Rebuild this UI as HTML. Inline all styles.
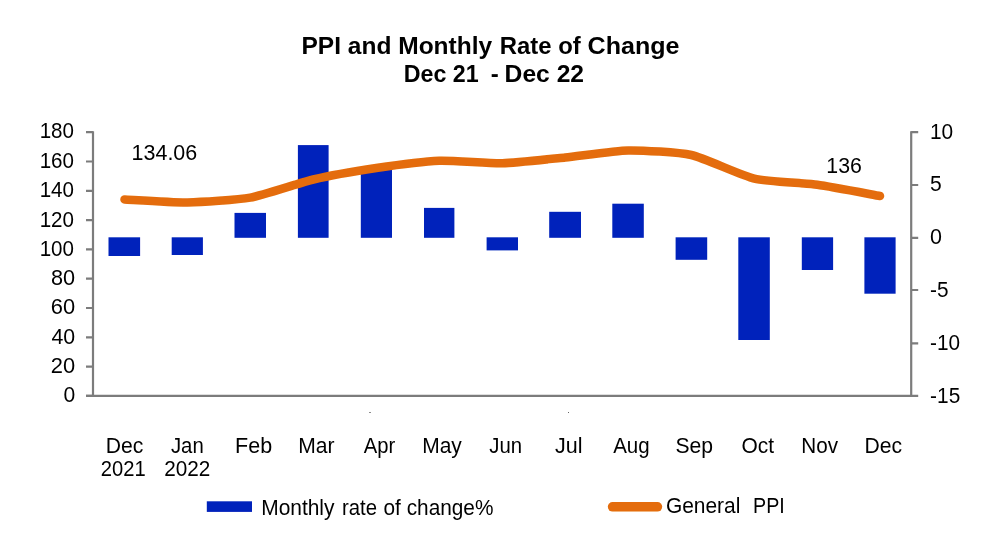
<!DOCTYPE html>
<html lang="en">
<head>
<meta charset="utf-8">
<title>PPI and Monthly Rate of Change</title>
<style>
html,body{margin:0;padding:0;background:#fff;}
body{width:1000px;height:539px;overflow:hidden;}
svg{display:block;}
text{font-family:"Liberation Sans",Arial,sans-serif;fill:#000;}
.t{font-weight:bold;}
</style>
</head>
<body>
<svg width="1000" height="539" viewBox="0 0 1000 539">
<defs><filter id="soft" x="0" y="0" width="1000" height="539" filterUnits="userSpaceOnUse"><feGaussianBlur stdDeviation="0.4"/></filter></defs>
<rect width="1000" height="539" fill="#fff"/>
<g filter="url(#soft)">
<g fill="#0121bb">
<rect x="108.5" y="237.3" width="31.6" height="18.7"/>
<rect x="171.7" y="237.3" width="31.2" height="17.7"/>
<rect x="234.5" y="212.9" width="31.5" height="24.9"/>
<rect x="297.9" y="145.1" width="30.7" height="92.7"/>
<rect x="360.8" y="168.0" width="31.2" height="69.8"/>
<rect x="424.0" y="207.9" width="30.4" height="29.9"/>
<rect x="486.6" y="237.3" width="31.4" height="13.1"/>
<rect x="549.2" y="211.8" width="31.8" height="26.0"/>
<rect x="612.3" y="203.7" width="31.5" height="34.1"/>
<rect x="675.6" y="237.3" width="31.6" height="22.5"/>
<rect x="738.3" y="237.3" width="31.5" height="102.7"/>
<rect x="801.8" y="237.3" width="31.3" height="32.7"/>
<rect x="864.4" y="237.3" width="31.2" height="56.4"/>
</g>
<g stroke="#7c7c7c" stroke-width="2.2" fill="none">
<path d="M93 131.3V396.9M86 395.85H918.2M911.2 131.3V396.9"/>
<path d="M86 395.9H93M86 366.6H93M86 337.3H93M86 308.0H93M86 278.7H93M86 249.4H93M86 220.1H93M86 190.8H93M86 161.5H93M86 132.2H93"/>
<path d="M911.2 132.2H918.2M911.2 185.0H918.2M911.2 237.8H918.2M911.2 290.0H918.2M911.2 343.3H918.2"/>
</g>
<path d="M124.5 199.4C130.8 199.7 174.8 202.6 187.4 202.4C200.0 202.2 237.7 199.9 250.3 197.6C262.9 195.3 300.7 182.5 313.3 179.5C325.9 176.5 363.7 169.9 376.3 168.0C388.9 166.1 426.7 161.2 439.3 160.7C451.9 160.2 489.7 163.5 502.3 163.2C514.9 162.9 552.7 158.7 565.3 157.4C577.9 156.1 615.7 150.6 628.3 150.4C640.9 150.2 678.7 152.2 691.3 155.0C703.9 157.8 741.7 175.6 754.3 178.6C766.9 181.6 804.7 183.1 817.3 184.8C829.9 186.5 873.7 194.9 880.0 196.0" fill="none" stroke="#e46c0a" stroke-width="8.5" stroke-linecap="round" stroke-linejoin="round"/>
<rect x="369" y="412" width="2" height="1" fill="#8c8c8c"/>
<rect x="568" y="412" width="1" height="1" fill="#666"/>
<rect x="206.8" y="501.3" width="45.2" height="10.6" fill="#0121bb"/>
<path d="M612.6 506.8H657.4" stroke="#e46c0a" stroke-width="9.6" stroke-linecap="round" fill="none"/>
<text class="t" font-size="23.2" transform="translate(301.51 54.20) scale(1.0571 1)">PPI and Monthly</text>
<text class="t" font-size="23.2" transform="translate(499.85 54.20) scale(1.0298 1)">Rate of</text>
<text class="t" font-size="23.2" transform="translate(587.62 54.20) scale(1.0804 1)">Change</text>
<text class="t" font-size="23.2" transform="translate(403.70 82.30) scale(1.0028 1)">Dec 21</text>
<text class="t" font-size="23.2" transform="translate(490.67 82.30) scale(1.0339 1)">-</text>
<text class="t" font-size="23.2" transform="translate(504.60 82.30) scale(1.0622 1)">Dec 22</text>
<text class="l" font-size="21.3" transform="translate(63.41 402.25) scale(0.9902 1)">0</text>
<text class="l" font-size="21.3" transform="translate(50.77 372.96) scale(1.0275 1)">20</text>
<text class="l" font-size="21.3" transform="translate(51.40 343.67) scale(1.0000 1)">40</text>
<text class="l" font-size="21.3" transform="translate(50.77 314.38) scale(1.0275 1)">60</text>
<text class="l" font-size="21.3" transform="translate(50.98 285.09) scale(1.0182 1)">80</text>
<text class="l" font-size="21.3" transform="translate(39.65 255.80) scale(0.9668 1)">100</text>
<text class="l" font-size="21.3" transform="translate(39.65 226.51) scale(0.9668 1)">120</text>
<text class="l" font-size="21.3" transform="translate(39.65 197.22) scale(0.9668 1)">140</text>
<text class="l" font-size="21.3" transform="translate(39.65 167.93) scale(0.9668 1)">160</text>
<text class="l" font-size="21.3" transform="translate(39.65 138.14) scale(0.9668 1)">180</text>
<text class="l" font-size="21.3" transform="translate(929.93 138.70) scale(0.9812 1)">10</text>
<text class="l" font-size="21.3" transform="translate(929.91 191.46) scale(0.9900 1)">5</text>
<text class="l" font-size="21.3" transform="translate(929.99 244.22) scale(1.0098 1)">0</text>
<text class="l" font-size="21.3" transform="translate(930.12 296.98) scale(0.9766 1)">-5</text>
<text class="l" font-size="21.3" transform="translate(930.12 349.74) scale(0.9759 1)">-10</text>
<text class="l" font-size="21.3" transform="translate(930.12 402.50) scale(0.9793 1)">-15</text>
<text class="l" font-size="21.3" transform="translate(131.59 159.80) scale(1.0080 1)">134.06</text>
<text class="l" font-size="21.3" transform="translate(826.30 173.00) scale(1.0000 1)">136</text>
<text class="l" font-size="21.2" transform="translate(105.70 452.70) scale(0.9972 1)">Dec</text>
<text class="l" font-size="21.3" transform="translate(100.86 476.20) scale(0.9470 1)">2021</text>
<text class="l" font-size="21.2" transform="translate(170.92 452.70) scale(0.9599 1)">Jan</text>
<text class="l" font-size="21.3" transform="translate(164.23 476.20) scale(0.9735 1)">2022</text>
<text class="l" font-size="21.2" transform="translate(235.07 452.70) scale(1.0147 1)">Feb</text>
<text class="l" font-size="21.2" transform="translate(298.31 452.70) scale(0.9942 1)">Mar</text>
<text class="l" font-size="21.2" transform="translate(363.80 452.70) scale(0.9538 1)">Apr</text>
<text class="l" font-size="21.2" transform="translate(422.22 452.70) scale(0.9896 1)">May</text>
<text class="l" font-size="21.2" transform="translate(489.22 452.70) scale(0.9599 1)">Jun</text>
<text class="l" font-size="21.2" transform="translate(554.99 452.70) scale(1.0158 1)">Jul</text>
<text class="l" font-size="21.2" transform="translate(613.20 452.70) scale(0.9669 1)">Aug</text>
<text class="l" font-size="21.2" transform="translate(675.40 452.70) scale(0.9972 1)">Sep</text>
<text class="l" font-size="21.2" transform="translate(741.51 452.70) scale(0.9874 1)">Oct</text>
<text class="l" font-size="21.2" transform="translate(801.34 452.70) scale(0.9749 1)">Nov</text>
<text class="l" font-size="21.2" transform="translate(864.60 452.70) scale(0.9972 1)">Dec</text>
<text class="l" font-size="21.2" transform="translate(261.22 514.70) scale(0.9876 1)">Monthly</text>
<text class="l" font-size="21.2" transform="translate(341.96 514.70) scale(0.9591 1)">rate</text>
<text class="l" font-size="21.2" transform="translate(383.52 514.70) scale(0.9819 1)">of change%</text>
<text class="l" font-size="21.2" transform="translate(665.91 513.10) scale(0.9877 1)">General</text>
<text class="l" font-size="21.2" transform="translate(753.02 513.10) scale(0.9279 1)">PPI</text>
</g>
</svg>
</body>
</html>
